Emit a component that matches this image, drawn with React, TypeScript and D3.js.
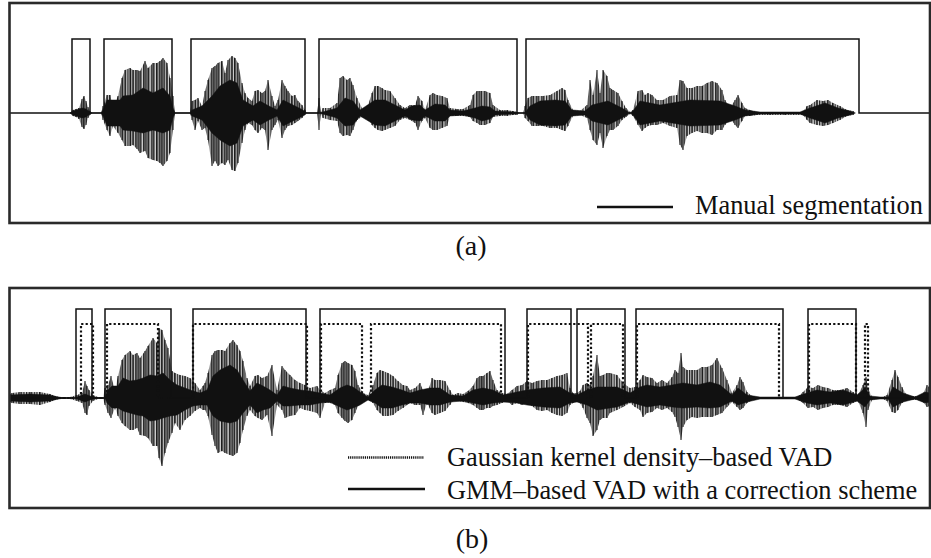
import React from "react";
import * as d3 from "d3";

// time in 10 ms frames, amplitude in % of full scale
const FRAMES = 920;

// manual segmentation (a): [start, end] frames
const manualSegs: [number, number][] = [[62, 80], [94, 162], [181, 295], [309, 507], [516, 849]];
// GMM-based VAD with correction (b)
const gmmSegs: [number, number][] = [[66, 82], [95, 161], [183, 296], [310, 495], [517, 561], [567, 615], [626, 773], [798, 846]];
// Gaussian kernel density-based VAD (b)
const gkdSegs: [number, number][] = [[71, 83], [97, 148], [183, 297], [311, 352], [361, 491], [518, 578], [581, 613], [627, 769], [799, 846], [855, 858]];

const MANUAL_LEVEL = 74;
const GKD_LEVEL = 74;
const GMM_LEVEL = 89;

// waveform envelopes: [frame, upper, lower]
const waveA: [number, number, number][] = [
  [60, 0, 0], [63, 3, 3], [66, 4, 4], [69, 5, 6], [72, 14, 14], [74, 17, 16], [76, 12, 12], [78, 6, 5], [80, 2, 2], [82, 0, 0],
  [91, 0, 0], [93, 7, 7], [97, 18, 17], [100, 18, 23], [103, 7, 13], [108, 17, 20], [112, 35, 27], [115, 43, 33], [120, 45, 33], [123, 43, 32], [127, 43, 36], [130, 42, 40], [135, 52, 38], [138, 45, 45], [143, 50, 47], [147, 50, 48], [150, 52, 50], [153, 55, 53], [157, 50, 48], [160, 35, 40], [163, 17, 17], [165, 0, 0],
  [180, 0, 0], [182, 12, 7], [185, 13, 17], [188, 15, 8], [192, 7, 17], [195, 22, 15], [198, 33, 27], [202, 45, 53], [205, 47, 48], [208, 50, 53], [212, 52, 50], [215, 40, 52], [218, 53, 47], [222, 57, 57], [225, 55, 58], [228, 50, 50], [232, 30, 30], [235, 20, 17], [238, 15, 10], [242, 12, 12], [245, 22, 17], [248, 23, 20], [252, 20, 15], [255, 22, 17], [258, 33, 37], [262, 17, 17], [265, 7, 12], [268, 13, 7], [272, 33, 25], [275, 27, 17], [278, 22, 13], [282, 17, 12], [285, 18, 10], [288, 12, 8], [292, 8, 5], [295, 3, 2], [297, 0, 0],
  [307, 0, 0], [309, 15, 17], [311, 1, 1], [313, 5, 5], [320, 5, 7], [327, 10, 8], [330, 35, 20], [333, 37, 23], [337, 33, 22], [340, 35, 23], [343, 28, 17], [347, 15, 7], [353, 3, 3], [358, 8, 5], [362, 20, 12], [365, 27, 15], [368, 27, 17], [372, 25, 18], [375, 23, 17], [380, 22, 15], [385, 15, 13], [390, 8, 7], [395, 5, 5], [400, 8, 7], [405, 8, 10], [408, 17, 17], [412, 12, 8], [415, 3, 5], [420, 18, 15], [423, 20, 17], [427, 18, 17], [432, 17, 15], [437, 15, 13], [440, 5, 3], [447, 4, 3], [453, 4, 3], [460, 8, 4], [463, 18, 8], [467, 22, 10], [470, 22, 12], [475, 22, 12], [480, 20, 10], [483, 8, 4], [490, 3, 3], [497, 3, 3], [503, 2, 2], [507, 1, 2], [509, 0, 0],
  [513, 0, 0], [515, 7, 5], [518, 15, 8], [522, 17, 13], [527, 17, 13], [533, 17, 13], [540, 18, 15], [547, 22, 15], [552, 25, 17], [555, 23, 18], [558, 13, 13], [563, 3, 3], [570, 2, 2], [577, 8, 5], [580, 33, 17], [583, 18, 27], [587, 43, 32], [590, 20, 20], [593, 43, 35], [597, 37, 23], [600, 25, 17], [603, 23, 17], [608, 20, 13], [612, 12, 7], [616, 5, 4], [620, 1, 1],
  [623, 3, 3], [628, 22, 12], [632, 23, 18], [635, 18, 15], [638, 20, 13], [642, 18, 12], [647, 13, 12], [653, 13, 10], [660, 17, 13], [667, 18, 15], [670, 33, 32], [673, 32, 37], [677, 25, 23], [682, 25, 20], [687, 27, 18], [692, 27, 20], [697, 30, 20], [702, 32, 22], [707, 30, 17], [712, 23, 17], [715, 13, 12], [720, 5, 5], [725, 13, 12], [728, 18, 15], [732, 10, 8], [735, 5, 3], [740, 3, 3], [747, 1, 2], [760, 1, 2], [775, 1, 2], [793, 1, 2], [797, 7, 7], [800, 8, 10], [807, 13, 12], [813, 12, 13], [818, 13, 12], [823, 10, 10], [830, 7, 7], [837, 3, 3], [843, 2, 2], [846, 0, 0],
];

const coreA: [number, number, number][] = [
  [60, 0, 0], [63, 2, 2], [72, 5, 5], [76, 4, 4], [80, 1, 1], [82, 0, 0],
  [91, 0, 0], [93, 3, 3], [97, 13, 13], [100, 13, 13], [105, 13, 13], [110, 13, 13], [113, 17, 17], [123, 18, 18], [133, 25, 20], [143, 20, 17], [153, 25, 20], [160, 17, 17], [163, 5, 5], [165, 0, 0],
  [180, 0, 0], [182, 3, 3], [192, 7, 7], [202, 17, 20], [210, 27, 27], [220, 33, 33], [227, 30, 30], [233, 13, 13], [243, 7, 7], [250, 12, 12], [257, 8, 8], [267, 3, 3], [273, 13, 13], [283, 8, 8], [293, 3, 3], [296, 0, 0],
  [309, 0, 0], [320, 3, 3], [327, 5, 5], [335, 15, 13], [343, 12, 12], [350, 3, 3], [365, 13, 12], [375, 13, 13], [385, 8, 8], [395, 3, 3], [402, 7, 7], [410, 8, 8], [415, 3, 3], [425, 9, 8], [435, 8, 8], [440, 3, 3], [453, 2, 2], [465, 5, 5], [472, 7, 8], [480, 6, 6], [485, 2, 2], [505, 1, 1], [509, 0, 0],
  [515, 0, 0], [520, 7, 7], [530, 12, 12], [545, 13, 13], [555, 12, 12], [562, 3, 3], [575, 2, 2], [582, 8, 8], [590, 10, 10], [598, 12, 12], [608, 7, 7], [612, 5, 5], [620, 0, 0],
  [623, 2, 2], [630, 12, 12], [650, 8, 8], [680, 13, 13], [710, 12, 12], [725, 7, 7], [735, 3, 3], [750, 1, 1], [790, 1, 1], [800, 5, 5], [815, 10, 10], [828, 5, 5], [840, 2, 2], [845, 0, 0],
];

const waveB: [number, number, number][] = [
  [0, 4, 4], [2, 5, 5], [10, 6, 6], [20, 6, 6], [30, 6, 7], [40, 4, 4], [45, 2, 2], [50, 1, 1], [60, 1, 1],
  [67, 3, 3], [72, 5, 5], [75, 17, 15], [77, 12, 17], [79, 8, 8], [83, 3, 3], [88, 1, 1], [93, 1, 1],
  [95, 10, 7], [98, 13, 15], [101, 22, 20], [105, 8, 10], [108, 22, 18], [112, 38, 25], [115, 43, 28], [120, 47, 32], [123, 43, 32], [127, 45, 30], [130, 40, 37], [135, 47, 38], [138, 52, 40], [143, 60, 48], [147, 55, 48], [149, 70, 60], [152, 68, 68], [155, 58, 55], [158, 50, 45], [162, 27, 35], [165, 25, 25], [170, 23, 32], [175, 22, 22], [180, 20, 18], [185, 15, 13], [190, 8, 10], [193, 12, 12],
  [195, 15, 12], [198, 25, 18], [202, 43, 37], [205, 47, 48], [208, 48, 55], [212, 48, 53], [215, 47, 55], [220, 55, 57], [223, 58, 58], [227, 53, 55], [230, 47, 45], [233, 37, 32], [237, 20, 18], [240, 12, 12], [245, 22, 18], [248, 23, 20], [252, 20, 22], [257, 22, 17], [262, 33, 38], [267, 8, 7], [272, 32, 12], [275, 28, 20], [280, 23, 18], [285, 18, 17], [290, 15, 10], [295, 13, 12], [300, 10, 13], [307, 12, 15],
  [310, 8, 20], [315, 5, 5], [320, 8, 5], [325, 10, 7], [328, 23, 15], [332, 35, 20], [335, 37, 23], [338, 35, 25], [342, 33, 22], [345, 27, 15], [348, 13, 8], [353, 5, 3], [358, 3, 2], [363, 13, 5], [367, 25, 12], [370, 28, 15], [373, 27, 18], [378, 25, 18], [383, 22, 17], [388, 17, 13], [393, 13, 10], [397, 12, 7], [400, 8, 5], [405, 10, 7], [410, 15, 7], [413, 8, 17], [417, 3, 5], [422, 20, 15], [425, 18, 17], [430, 18, 15], [435, 17, 13], [440, 8, 7], [443, 3, 3], [448, 5, 3], [453, 4, 4], [458, 7, 5], [463, 12, 7], [467, 20, 10], [470, 22, 12], [473, 22, 12], [477, 25, 10], [480, 27, 10], [483, 18, 8], [487, 8, 7], [492, 5, 5], [497, 4, 3], [502, 8, 7], [507, 12, 5], [512, 13, 7], [517, 17, 5], [522, 15, 8], [527, 17, 12], [532, 18, 13], [537, 18, 12], [542, 20, 15], [547, 22, 17], [552, 23, 18], [557, 25, 15], [560, 10, 7], [563, 5, 5], [567, 5, 3], [570, 7, 5], [573, 13, 10], [577, 15, 20], [580, 13, 25], [583, 22, 38], [587, 43, 32], [590, 22, 22], [593, 23, 20], [597, 25, 20],
  [600, 25, 15], [607, 23, 12], [613, 15, 9], [620, 10, 5], [625, 11, 9], [630, 18, 12], [633, 23, 19], [637, 21, 15], [642, 20, 14], [647, 15, 10], [652, 18, 12], [657, 15, 10], [662, 21, 14], [665, 28, 19], [668, 25, 29], [671, 45, 42], [673, 31, 29], [677, 28, 22], [682, 28, 19], [687, 28, 20], [692, 31, 19], [697, 31, 19], [702, 33, 19], [707, 40, 17], [712, 30, 15], [717, 18, 9], [722, 5, 4], [727, 13, 9], [730, 21, 12], [733, 16, 10], [737, 6, 5], [742, 2, 2], [747, 1, 1], [767, 1, 1], [787, 1, 1], [790, 3, 3], [793, 6, 5], [798, 11, 10], [803, 10, 9], [808, 13, 12], [813, 11, 10], [818, 10, 9], [823, 8, 7], [830, 8, 7], [837, 10, 9], [843, 6, 5], [848, 3, 3], [853, 13, 15], [856, 21, 29], [858, 10, 12], [862, 1, 2], [867, 1, 1], [873, 1, 1], [877, 3, 3], [882, 18, 14], [885, 28, 15], [888, 21, 12], [892, 11, 5], [897, 2, 2], [902, 2, 2], [908, 2, 2], [913, 4, 4], [917, 13, 9], [920, 10, 8],
];

const coreB: [number, number, number][] = [
  [0, 3, 3], [20, 4, 4], [40, 3, 3], [48, 1, 1], [55, 0, 0],
  [65, 0, 0], [67, 1, 1], [75, 4, 4], [80, 2, 2], [88, 0, 0],
  [95, 0, 0], [97, 7, 5], [102, 12, 10], [108, 12, 10], [113, 20, 13], [120, 17, 15], [127, 18, 17], [133, 20, 18], [140, 23, 23], [147, 22, 22], [153, 25, 20], [160, 18, 18], [167, 13, 17], [175, 10, 12], [183, 7, 8], [190, 5, 7],
  [197, 8, 7], [203, 22, 18], [210, 28, 23], [220, 33, 25], [227, 28, 23], [233, 18, 15], [240, 7, 7], [247, 15, 15], [253, 12, 12], [260, 8, 10], [267, 3, 3], [273, 12, 8], [280, 10, 8], [290, 8, 7], [300, 7, 7],
  [310, 5, 5], [320, 3, 4], [330, 10, 9], [337, 13, 12], [343, 11, 10], [350, 6, 7], [358, 1, 2], [365, 8, 5], [372, 13, 10], [382, 11, 10], [392, 8, 7], [400, 5, 5], [410, 8, 5], [420, 10, 7], [430, 10, 7], [440, 3, 4], [453, 2, 3], [463, 8, 5], [473, 10, 7], [483, 8, 5], [493, 3, 4], [507, 6, 5], [517, 8, 7], [533, 10, 9], [550, 11, 10], [560, 5, 5], [567, 3, 4], [577, 8, 7], [587, 11, 12], [600, 11, 10],
  [607, 11, 9], [620, 5, 4], [630, 11, 7], [637, 13, 9], [650, 11, 7], [662, 13, 9], [673, 15, 10], [687, 13, 9], [700, 16, 10], [710, 13, 9], [722, 3, 3], [728, 10, 7], [737, 3, 4], [750, 1, 1], [785, 1, 1], [797, 5, 5], [807, 8, 7], [820, 6, 5], [833, 8, 7], [847, 3, 3], [855, 10, 9], [860, 2, 2], [870, 1, 1], [878, 1, 1], [883, 11, 9], [893, 5, 4], [905, 1, 1], [915, 6, 5], [920, 5, 4],
];

const legendA = ["Manual segmentation"];
const legendB = ["Gaussian kernel density\u2013based VAD", "GMM\u2013based VAD with a correction scheme"];
const panelLabels = ["(a)", "(b)"];

const W = 931;
const H = 558;
const FONT = "'Liberation Serif', 'Times New Roman', Times, serif";

const x = d3.scaleLinear().domain([0, FRAMES]).range([10, 930]);

function stepPoints(segs: [number, number][], level: number): [number, number][] {
  const pts: [number, number][] = [[0, 0]];
  segs.forEach(([s, e]) => {
    pts.push([s, 0], [s, level], [e, level], [e, 0]);
  });
  pts.push([FRAMES, 0]);
  return pts;
}

function Wave({ outer, core, y }: { outer: [number, number, number][]; core: [number, number, number][]; y: d3.ScaleLinear<number, number> }) {
  const area = d3
    .area<[number, number, number]>()
    .x((d) => x(d[0]))
    .y0((d) => y(-d[2]))
    .y1((d) => y(d[1]));
  return (
    <g>
      <path d={area(outer) || ""} fill="url(#stripes)" />
      {outer.map((d, i) => (
        <line key={i} x1={x(d[0])} x2={x(d[0])} y1={y(d[1])} y2={y(-d[2])} stroke="#111" strokeWidth={1} />
      ))}
      <path d={area(core) || ""} fill="#111" stroke="#111" strokeWidth={0.5} />
    </g>
  );
}

export default function App() {
  const yA = d3.scaleLinear().domain([-110, 110]).range([223, 3]);
  const yB = d3.scaleLinear().domain([-110, 110]).range([508, 288]);
  const lineA = d3.line<[number, number]>().x((d) => x(d[0])).y((d) => yA(d[1]));
  const lineB = d3.line<[number, number]>().x((d) => x(d[0])).y((d) => yB(d[1]));

  return (
    <div style={{ position: "absolute", left: 0, top: 0 }}>
      <svg width={W} height={H} style={{ display: "block", background: "#fff" }}>
        <defs>
          <pattern id="stripes" patternUnits="userSpaceOnUse" width={2.6} height={10}>
            <rect x={0} y={0} width={2.6} height={10} fill="#d0d0d0" />
            <rect x={0} y={0} width={1.2} height={10} fill="#222" />
          </pattern>
        </defs>
        {/* Panel (a) */}
        <Wave outer={waveA} core={coreA} y={yA} />
        <path d={lineA(stepPoints(manualSegs, MANUAL_LEVEL)) || ""} fill="none" stroke="#111" strokeWidth={1.5} />
        <rect x={9.5} y={3} width={920.5} height={220} fill="none" stroke="#2a2a2a" strokeWidth={2.6} />
        <line x1={597} x2={673} y1={207} y2={207} stroke="#111" strokeWidth={2.5} />
        <text x={695} y={213.5} fontFamily={FONT} fontSize={26.4} fill="#111">{legendA[0]}</text>
        <text x={471} y={255} fontFamily={FONT} fontSize={28} textAnchor="middle" fill="#111">{panelLabels[0]}</text>

        {/* Panel (b) */}
        <Wave outer={waveB} core={coreB} y={yB} />
        <path d={lineB(stepPoints(gkdSegs, GKD_LEVEL)) || ""} fill="none" stroke="#111" strokeWidth={2.2} strokeDasharray="2.2 2.2" />
        <path d={lineB(stepPoints(gmmSegs, GMM_LEVEL)) || ""} fill="none" stroke="#111" strokeWidth={1.5} />
        <rect x={9.5} y={288} width={920.5} height={220} fill="none" stroke="#2a2a2a" strokeWidth={2.6} />
        <line x1={348} x2={424} y1={457.5} y2={457.5} stroke="#111" strokeWidth={2.5} strokeDasharray="1.2 0.9" />
        <text x={447} y={466} fontFamily={FONT} fontSize={26.4} fill="#111">{legendB[0]}</text>
        <line x1={348} x2={425} y1={489} y2={489} stroke="#111" strokeWidth={2.5} />
        <text x={447} y={499} fontFamily={FONT} fontSize={26.4} fill="#111">{legendB[1]}</text>
        <text x={472} y={548} fontFamily={FONT} fontSize={28} textAnchor="middle" fill="#111">{panelLabels[1]}</text>
      </svg>
    </div>
  );
}
